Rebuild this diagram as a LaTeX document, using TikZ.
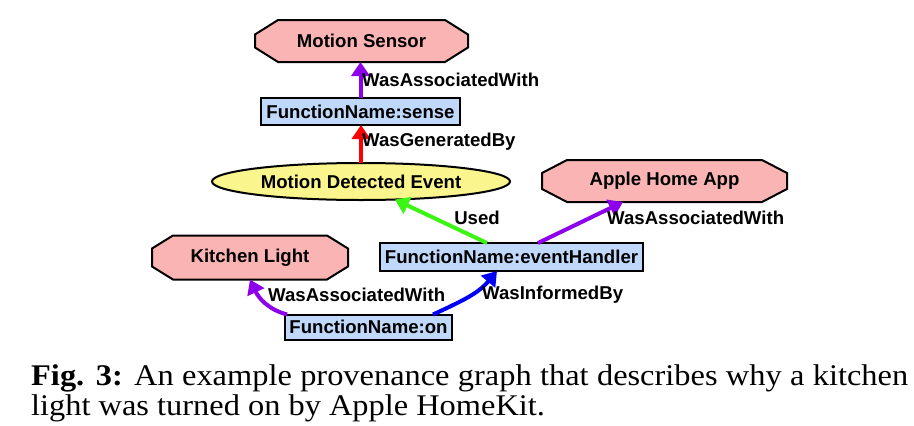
\documentclass[tikz,border=0pt]{standalone}
\usepackage{fontspec}
\setmainfont{Liberation Serif}
\newfontfamily\capfont[FakeStretch=1.08]{Liberation Serif}
\newfontfamily\diafont{Liberation Sans}
\usetikzlibrary{arrows.meta,backgrounds,calc,shapes.geometric}
\definecolor{octpink}{RGB}{250,180,180}
\definecolor{boxblue}{RGB}{192,216,250}
\definecolor{evyellow}{RGB}{250,245,140}
\definecolor{apurple}{RGB}{140,0,235}
\definecolor{ared}{RGB}{250,0,0}
\definecolor{agreen}{RGB}{60,245,20}
\definecolor{ablue}{RGB}{0,0,250}
\tikzset{
  dfont/.style={font=\diafont\bfseries\fontsize{18.6}{20}\selectfont},
  oct/.style={dfont, inner sep=0pt, outer sep=0pt},
  octline/.style={draw=black, line width=2pt, fill=octpink, line join=miter},
  fbox/.style={dfont, draw=black, line width=2pt, fill=boxblue, inner sep=0pt, outer sep=0pt},
  evt/.style={dfont, ellipse, draw=black, line width=2pt, fill=evyellow, inner sep=0pt, outer sep=0pt},
  lbl/.style={dfont, inner sep=0pt, anchor=west},
  arr/.style={line width=4pt, -{Triangle[length=14pt,width=18pt]}},
  capt/.style={font=\capfont\fontsize{30}{30}\selectfont, inner sep=0pt, anchor=base west}
}
\newcommand\octshape[3]{%
  \draw[octline] ([yshift=#3]#1.west) -- ([xshift=#2]#1.north west) -- ([xshift=-#2]#1.north east)
    -- ([yshift=#3]#1.east) -- ([yshift=-#3]#1.east) -- ([xshift=-#2]#1.south east)
    -- ([xshift=#2]#1.south west) -- ([yshift=-#3]#1.west) -- cycle;}
\begin{document}
\begin{tikzpicture}[x=1pt,y=-1pt]
\useasboundingbox (0,0) rectangle (914,426);
% nodes
\node[oct, minimum width=213pt, minimum height=42pt] (ms) at (361.5,41) {Motion Sensor};
\node[fbox, minimum width=199pt, minimum height=27pt] (fs) at (360.5,111.5) {FunctionName:sense};
\node[evt, minimum width=298pt, minimum height=37pt] (ev) at (361,181.5) {Motion Detected Event};
\node[oct, minimum width=245pt, minimum height=42pt] (ah) at (664.5,181) {Apple Home App};
\node[fbox, minimum width=263pt, minimum height=28pt] (eh) at (511.5,257) {FunctionName:eventHandler};
\node[oct, minimum width=196pt, minimum height=44pt] (kl) at (250,257.5) {Kitchen Light};
\node[fbox, minimum width=167pt, minimum height=25pt] (fo) at (368.5,327) {FunctionName:on};
\begin{scope}[on background layer]
\octshape{ms}{23pt}{6.5pt}
\octshape{ah}{25pt}{8pt}
\octshape{kl}{21pt}{9pt}
\end{scope}
% connectors
\draw[arr, apurple] (fs.north) -- (fs.north |- ms.south);
\draw[arr, ared] (ev.north) -- (ev.north |- fs.south);
\draw[arr, agreen] ([xshift=-24.5pt]eh.north) -- (ev.-28);
\draw[arr, apurple] ([xshift=26.5pt]eh.north) -- ([xshift=-41.5pt]ah.south);
\draw[arr, apurple] ([xshift=2pt]fo.north west) to[out=165,in=-65] (kl.south);
\draw[arr, ablue] ([xshift=-19pt]fo.north east) to[out=25,in=-130] ([xshift=-14.5pt]eh.south);
% labels
\node[lbl] (l1) at (362,80) {WasAssociatedWith};
\node[lbl] (l2) at (362,142) {WasGeneratedBy};
\node[lbl, anchor=center] (l3) at (477,218) {Used};
\node[lbl] (l4) at (607,218) {WasAssociatedWith};
\node[lbl] (l5) at (268,295) {WasAssociatedWith};
\node[lbl] (l6) at (482,295) {WasInformedBy};
% caption
\node[capt] (c1) at (31,385) {\makebox[877pt][s]{\textbf{Fig. 3:} An example provenance graph that describes why a kitchen}};
\node[capt] (c2) at (31,415) {light was turned on by Apple HomeKit.};
\end{tikzpicture}
\end{document}
